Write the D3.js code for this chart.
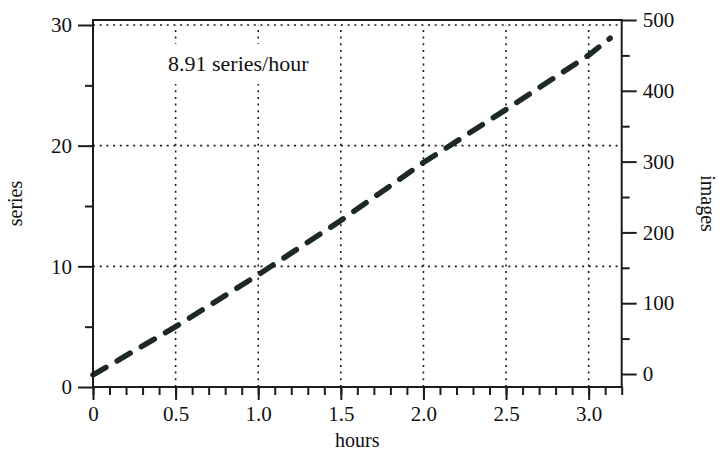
<!DOCTYPE html>
<html>
<head>
<meta charset="utf-8">
<script src="https://cdn.jsdelivr.net/npm/d3@7"></script>
<style>
  body { margin: 0; background: #fff; }
  svg, svg text { font-family: "Liberation Serif", "Times New Roman", serif; }
  .tick text { font-family: "Liberation Serif", serif !important; font-size: 21px !important; fill: #111; }
</style>
</head>
<body>
<svg id="chart" width="719" height="453"></svg>
<script>
// values
var hours = [0, 0.5, 1.0, 1.5, 2.0, 2.5, 3.0, 3.13];
var series = [1.0, 5.0, 9.3, 13.8, 18.6, 23.0, 27.5, 28.9];
var hourTicks = [0, 0.5, 1.0, 1.5, 2.0, 2.5, 3.0];
var hourMinor = d3.range(0, 33).map(function(i) { return i / 10; });
var seriesTicks = [0, 10, 20, 30];
var seriesMinor = [5, 15, 25];
var imageTicks = [0, 100, 200, 300, 400, 500];
var imageMinor = [50, 150, 250, 350, 450];
var rateLabel = "8.91 series/hour";

var svg = d3.select("#chart");
var ink = "#1c1c1c";

var x = d3.scaleLinear().domain([0, 3.2]).range([93, 621.7]);
var y = d3.scaleLinear().domain([0, 30]).range([387, 25]);
var yImg = d3.scaleLinear().domain([0, 500]).range([374, 20]);
var plotTop = yImg(500), plotBottom = y(0), plotLeft = x(0), plotRight = x(3.2);

// dotted grid
var grid = svg.append("g")
    .attr("stroke", ink)
    .attr("stroke-width", 1.6)
    .attr("stroke-dasharray", "2,4.7");

grid.selectAll("line.v")
    .data(hourTicks.slice(1))
    .enter()
    .append("line")
    .attr("class", "v")
    .attr("x1", function(d) { return x(d); })
    .attr("x2", function(d) { return x(d); })
    .attr("y1", plotBottom)
    .attr("y2", y(30));

grid.selectAll("line.h")
    .data(seriesTicks.slice(1))
    .enter()
    .append("line")
    .attr("class", "h")
    .attr("x1", plotLeft)
    .attr("x2", plotRight)
    .attr("y1", function(d) { return y(d); })
    .attr("y2", function(d) { return y(d); });

// annotation with white box behind it
svg.append("rect")
    .attr("x", 163)
    .attr("y", 44)
    .attr("width", 172)
    .attr("height", 40)
    .attr("fill", "#fff");

svg.append("text")
    .attr("x", 168)
    .attr("y", 71)
    .attr("font-size", "22px")
    .attr("fill", "#111")
    .text(rateLabel);

// data line
var line = d3.line()
    .x(function(d, i) { return x(hours[i]); })
    .y(function(d) { return y(d); });

svg.append("path")
    .datum(series)
    .attr("d", line)
    .attr("fill", "none")
    .attr("stroke", "#1d2a24")
    .attr("stroke-width", 5.5)
    .attr("stroke-linecap", "round")
    .attr("stroke-dasharray", "15,13");

// axes
var styleAxis = function(g) {
  g.attr("font-family", "Liberation Serif").attr("font-size", 21);
  g.select(".domain").remove();
  g.selectAll("line").attr("stroke", ink).attr("stroke-width", 2);
  g.selectAll("text")
    .attr("fill", "#111")
    .attr("font-family", "Liberation Serif")
    .attr("font-size", 21);
};

svg.append("g")
    .attr("transform", "translate(0," + plotBottom + ")")
    .call(d3.axisBottom(x).tickValues(hourMinor).tickSize(8).tickFormat(""))
    .call(styleAxis);

svg.append("g")
    .attr("transform", "translate(0," + plotBottom + ")")
    .call(d3.axisBottom(x).tickValues(hourTicks).tickSize(13).tickPadding(6)
      .tickFormat(function(d) { return d === 0 ? "0" : d3.format(".1f")(d); }))
    .call(styleAxis);

svg.append("g")
    .attr("transform", "translate(" + plotLeft + ",0)")
    .call(d3.axisLeft(y).tickValues(seriesMinor).tickSize(8).tickFormat(""))
    .call(styleAxis);

svg.append("g")
    .attr("transform", "translate(" + plotLeft + ",0)")
    .call(d3.axisLeft(y).tickValues(seriesTicks).tickSize(15).tickPadding(6))
    .call(styleAxis);

svg.append("g")
    .attr("transform", "translate(" + plotRight + ",0)")
    .call(d3.axisRight(yImg).tickValues(imageMinor).tickSize(8).tickFormat(""))
    .call(styleAxis);

svg.append("g")
    .attr("transform", "translate(" + plotRight + ",0)")
    .call(d3.axisRight(yImg).tickValues(imageTicks).tickSize(15).tickPadding(6))
    .call(styleAxis);

// frame
var frame = svg.append("g")
    .attr("stroke", ink)
    .attr("stroke-width", 2)
    .attr("fill", "none");

frame.append("line").attr("x1", plotLeft).attr("x2", plotLeft).attr("y1", plotTop).attr("y2", plotBottom + 1);
frame.append("line").attr("x1", plotRight).attr("x2", plotRight).attr("y1", plotTop - 1).attr("y2", plotBottom + 1);
frame.append("line").attr("x1", plotLeft - 1).attr("x2", plotRight + 1).attr("y1", plotBottom).attr("y2", plotBottom);
frame.append("line").attr("x1", plotLeft - 1).attr("x2", plotRight + 1).attr("y1", plotTop).attr("y2", plotTop);

// axis titles
svg.append("text")
    .attr("x", (plotLeft + plotRight) / 2)
    .attr("y", 447)
    .attr("text-anchor", "middle")
    .attr("font-size", "20px")
    .attr("fill", "#111")
    .text("hours");

svg.append("text")
    .attr("transform", "translate(22," + ((plotTop + plotBottom) / 2) + ") rotate(-90)")
    .attr("text-anchor", "middle")
    .attr("font-size", "20px")
    .attr("fill", "#111")
    .text("series");

svg.append("text")
    .attr("transform", "translate(701," + ((plotTop + plotBottom) / 2) + ") rotate(90)")
    .attr("text-anchor", "middle")
    .attr("font-size", "20px")
    .attr("fill", "#111")
    .text("images");
</script>
</body>
</html>
